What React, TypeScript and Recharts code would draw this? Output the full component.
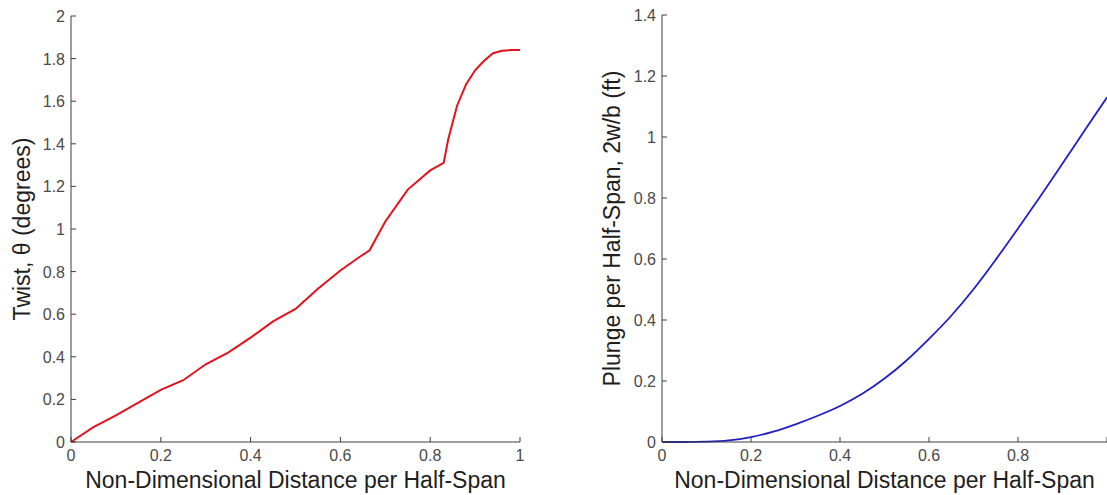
import { LineChart, Line, XAxis, YAxis } from 'recharts'

const FONT = '"Liberation Sans", Arial, Helvetica, sans-serif'
const AXIS_COLOR = '#3c3c3c'
const TICK_COLOR = '#4a4a4a'
const TITLE_COLOR = '#1e1e1e'

// shared x ticks (non-dimensional span position)
const spanTicks = [0, 0.2, 0.4, 0.6, 0.8, 1]
const twistTicks = [0, 0.2, 0.4, 0.6, 0.8, 1, 1.2, 1.4, 1.6, 1.8, 2]
const plungeTicks = [0, 0.2, 0.4, 0.6, 0.8, 1, 1.2, 1.4]

// left panel: twist (degrees)
const twistSpan = [
  0, 0.05, 0.1, 0.15, 0.2, 0.25, 0.3, 0.35, 0.4, 0.45, 0.5, 0.55, 0.6, 0.64,
  0.665, 0.7, 0.75, 0.8, 0.83, 0.84, 0.86, 0.88, 0.9, 0.92, 0.94, 0.96, 0.98, 1,
]
const twistDeg = [
  0, 0.07, 0.125, 0.185, 0.245, 0.29, 0.365, 0.42, 0.49, 0.566, 0.625, 0.72, 0.805, 0.865,
  0.9, 1.035, 1.185, 1.275, 1.31, 1.42, 1.58, 1.68, 1.745, 1.79, 1.825, 1.837, 1.84, 1.84,
]

// right panel: plunge per half-span
const plungeSpan = [
  0, 0.05, 0.1, 0.15, 0.2, 0.25, 0.3, 0.35, 0.4, 0.45, 0.5, 0.55, 0.6, 0.65, 0.7, 0.75,
  0.8, 0.85, 0.9, 0.95, 1,
]
const plungeVal = [
  0, 0, 0.001, 0.005, 0.016, 0.034, 0.058, 0.086, 0.118, 0.158, 0.208, 0.268, 0.338, 0.414,
  0.501, 0.598, 0.7, 0.805, 0.913, 1.022, 1.13,
]

const twistData = twistSpan.map((x, i) => ({ x, y: twistDeg[i] }))
const plungeData = plungeSpan.map((x, i) => ({ x, y: plungeVal[i] }))

type Side = 'bottom' | 'left' | 'top' | 'right'

// MATLAB style: tick marks point into the plot, labels outside
function makeTick(side: Side, showLabel: (v: number) => boolean) {
  return (props: any) => {
    const { x, y, payload } = props
    const len = 5
    let line
    let label = null
    const v = payload.value
    if (side === 'bottom') {
      line = <line x1={x} y1={y} x2={x} y2={y - len} stroke={AXIS_COLOR} />
      if (showLabel(v))
        label = (
          <text x={x} y={y + 19} textAnchor="middle" fontSize={16} fill={TICK_COLOR} fontFamily={FONT}>
            {String(v)}
          </text>
        )
    } else if (side === 'left') {
      line = <line x1={x} y1={y} x2={x + len} y2={y} stroke={AXIS_COLOR} />
      if (showLabel(v))
        label = (
          <text x={x - 6} y={y + 6} textAnchor="end" fontSize={16} fill={TICK_COLOR} fontFamily={FONT}>
            {String(v)}
          </text>
        )
    } else if (side === 'top') {
      line = <line x1={x} y1={y} x2={x} y2={y + len} stroke={AXIS_COLOR} />
    } else {
      line = <line x1={x} y1={y} x2={x - len} y2={y} stroke={AXIS_COLOR} />
    }
    return (
      <g>
        {line}
        {label}
      </g>
    )
  }
}

const all = () => true
const none = () => false
// the right panel is cropped at x = 1, so its last label is off the page
const notLast = (v: number) => v < 1

const xTitle = 'Non-Dimensional Distance per Half-Span'

export default function App() {
  return (
    <div
      style={{
        position: 'absolute',
        left: 0,
        top: 0,
        width: 1107,
        height: 495,
        overflow: 'hidden',
        background: '#fff',
      }}
    >
      <div style={{ position: 'absolute', left: 0, top: 0 }}>
        <LineChart width={560} height={495} data={twistData} margin={{ top: 16, right: 40, bottom: 7, left: 11 }}>
          <XAxis
            xAxisId="bottom"
            dataKey="x"
            type="number"
            domain={[0, 1]}
            ticks={spanTicks}
            height={46}
            tickLine={false}
            tickSize={0}
            tickMargin={0}
            axisLine={{ stroke: AXIS_COLOR }}
            tick={makeTick('bottom', all)}
            label={{
              value: xTitle,
              position: 'insideBottom',
              offset: 0,
              style: { fontSize: 23, fill: TITLE_COLOR, fontFamily: FONT },
            }}
          />
          <XAxis
            xAxisId="top"
            orientation="top"
            dataKey="x"
            type="number"
            domain={[0, 1]}
            ticks={spanTicks}
            height={0}
            tickLine={false}
            tickSize={0}
            tickMargin={0}
            axisLine={{ stroke: AXIS_COLOR }}
            tick={makeTick('top', none)}
          />
          <YAxis
            yAxisId="left"
            type="number"
            domain={[0, 2]}
            ticks={twistTicks}
            width={60}
            tickLine={false}
            tickSize={0}
            tickMargin={0}
            axisLine={{ stroke: AXIS_COLOR }}
            tick={makeTick('left', all)}
            label={{
              value: 'Twist, θ (degrees)',
              angle: -90,
              position: 'insideLeft',
              offset: 11,
              style: { fontSize: 23, fill: TITLE_COLOR, fontFamily: FONT, textAnchor: 'middle' },
            }}
          />
          <YAxis
            yAxisId="right"
            orientation="right"
            type="number"
            domain={[0, 2]}
            ticks={twistTicks}
            width={0}
            tickLine={false}
            tickSize={0}
            tickMargin={0}
            axisLine={{ stroke: AXIS_COLOR }}
            tick={makeTick('right', none)}
          />
          <Line
            xAxisId="bottom"
            yAxisId="left"
            dataKey="y"
            type="linear"
            stroke="#e4121b"
            strokeWidth={2}
            dot={false}
            isAnimationActive={false}
          />
        </LineChart>
      </div>
      <div style={{ position: 'absolute', left: 560, top: 0 }}>
        <LineChart width={567} height={495} data={plungeData} margin={{ top: 15, right: 20, bottom: 7, left: 42 }}>
          <XAxis
            dataKey="x"
            type="number"
            domain={[0, 1]}
            ticks={spanTicks}
            height={46}
            tickLine={false}
            tickSize={0}
            tickMargin={0}
            axisLine={{ stroke: AXIS_COLOR }}
            tick={makeTick('bottom', notLast)}
            label={{
              value: xTitle,
              position: 'insideBottom',
              offset: 0,
              style: { fontSize: 23, fill: TITLE_COLOR, fontFamily: FONT },
            }}
          />
          <YAxis
            type="number"
            domain={[0, 1.4]}
            ticks={plungeTicks}
            width={60}
            tickLine={false}
            tickSize={0}
            tickMargin={0}
            axisLine={{ stroke: AXIS_COLOR }}
            tick={makeTick('left', all)}
            label={{
              value: 'Plunge per Half-Span, 2w/b (ft)',
              angle: -90,
              position: 'insideLeft',
              offset: 10,
              style: { fontSize: 23, fill: TITLE_COLOR, fontFamily: FONT, textAnchor: 'middle' },
            }}
          />
          <Line
            dataKey="y"
            type="monotone"
            stroke="#1f1fc8"
            strokeWidth={1.8}
            dot={false}
            isAnimationActive={false}
          />
        </LineChart>
      </div>
    </div>
  )
}
